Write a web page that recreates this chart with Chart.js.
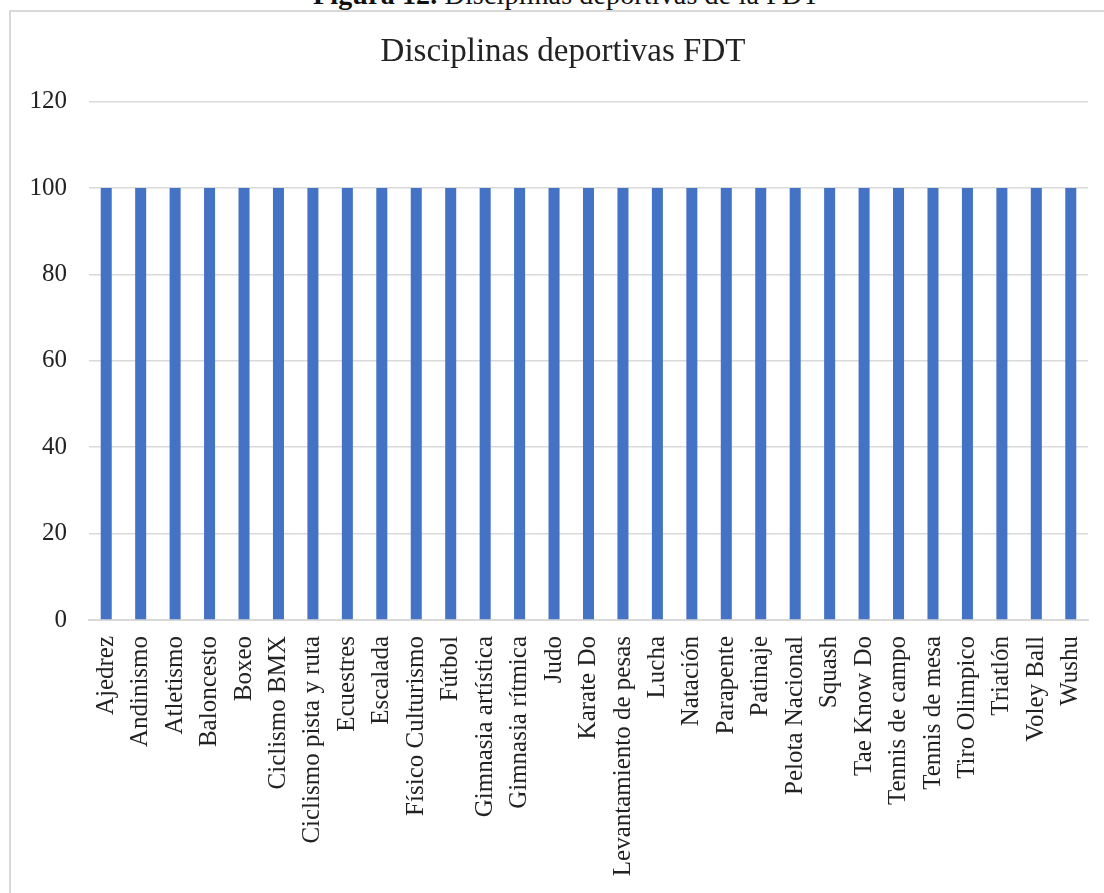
<!DOCTYPE html>
<html>
<head>
<meta charset="utf-8">
<script src="https://cdn.jsdelivr.net/npm/chart.js@4"></script>
<style>
  html, body { margin: 0; padding: 0; background: #fff; overflow: hidden; width: 1104px; height: 893px; }
  #caption { position: absolute; left: 313px; top: -21px; font: 28px "Liberation Serif", serif; color: #111; white-space: nowrap; letter-spacing: 0.15px; }
  #frame { position: absolute; left: 9px; top: 10px; width: 1200px; height: 1000px; border-left: 2px solid #d9d9d9; border-top: 2px solid #d9d9d9; }
  #wrap { position: absolute; left: 11px; top: 11px; width: 1104px; height: 882px; }
</style>
</head>
<body>
<div id="caption"><b>Figura 12.</b> Disciplinas deportivas de la FDT</div>
<div id="frame"></div>
<div id="wrap"><canvas id="myChart"></canvas></div>
<script>
const disciplinas = ["Ajedrez", "Andinismo", "Atletismo", "Baloncesto", "Boxeo", "Ciclismo BMX",
  "Ciclismo pista y ruta", "Ecuestres", "Escalada", "Físico Culturismo", "Fútbol",
  "Gimnasia artística", "Gimnasia rítmica", "Judo", "Karate Do", "Levantamiento de pesas",
  "Lucha", "Natación", "Parapente", "Patinaje", "Pelota Nacional", "Squash", "Tae Know Do",
  "Tennis de campo", "Tennis de mesa", "Tiro Olimpico", "Triatlón", "Voley Ball", "Wushu"];
const valores = [100, 100, 100, 100, 100, 100, 100, 100, 100, 100, 100, 100, 100, 100, 100,
  100, 100, 100, 100, 100, 100, 100, 100, 100, 100, 100, 100, 100, 100];
const yTicks = [0, 20, 40, 60, 80, 100, 120];

const textColor = "#222";
const gridColor = "#d9d9d9";

new Chart("myChart", {
  type: "bar",
  data: {
    labels: disciplinas,
    datasets: [{
      data: valores,
      backgroundColor: "#4472C4",
      barPercentage: 0.32,
      categoryPercentage: 1
    }]
  },
  options: {
    responsive: true,
    maintainAspectRatio: false,
    animation: false,
    layout: { padding: 0 },
    plugins: {
      legend: { display: false },
      tooltip: { enabled: false },
      title: {
        display: true,
        text: "Disciplinas deportivas FDT",
        color: textColor,
        font: { family: "Liberation Serif", size: 33, weight: "normal" },
        padding: { top: 22, bottom: 29 }
      }
    },
    scales: {
      x: {
        grid: { display: false, drawTicks: false },
        border: { color: gridColor, width: 2 },
        // right padding on the axis only, so the title stays centred on the wider frame
        afterFit: (s) => { s.height = 273; s.paddingLeft = 0; s.paddingRight = 27; },
        ticks: {
          color: textColor,
          font: { family: "Liberation Serif", size: 25 },
          minRotation: 90,
          maxRotation: 90,
          autoSkip: false,
          padding: 16
        }
      },
      y: {
        min: yTicks[0],
        max: yTicks[yTicks.length - 1],
        afterFit: (s) => { s.width = 78; },
        afterBuildTicks: (s) => { s.ticks = yTicks.map(v => ({ value: v })); },
        grid: { color: gridColor, lineWidth: 1.5, drawTicks: false },
        border: { display: false },
        ticks: {
          color: textColor,
          font: { family: "Liberation Serif", size: 25 },
          padding: 22
        }
      }
    }
  }
});
</script>
</body>
</html>
